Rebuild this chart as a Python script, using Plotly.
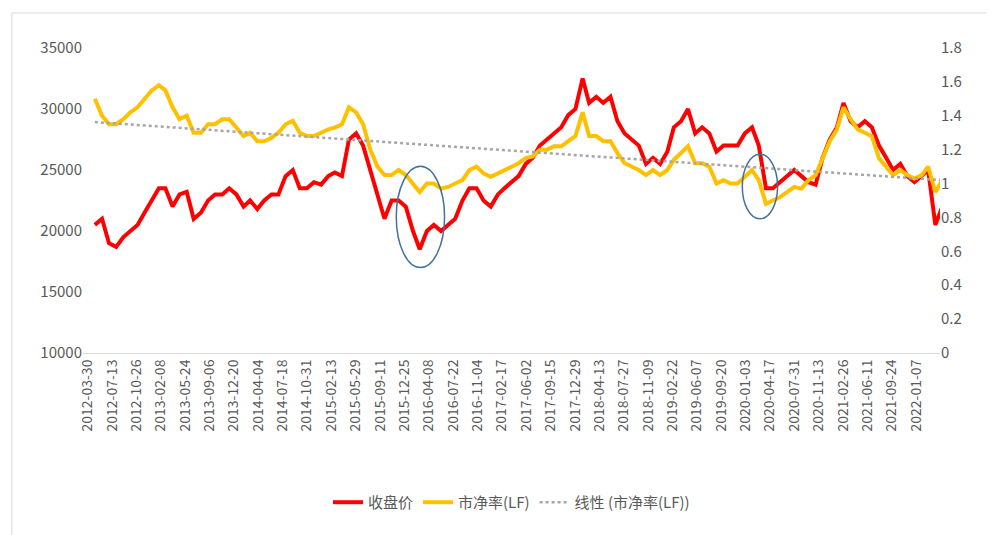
import numpy as np, pandas as pd
import plotly.graph_objects as go

months = pd.date_range("2012-04-30", "2022-04-30", freq="ME")[:121]
close = [20500,21000,19000,18700,19500,20000,20500,21500,22500,
 23500,23500,22000,23000,23200,21000,21500,22500,23000,23000,23500,23000,
 22000,22500,21800,22500,23000,23000,24500,25000,23500,23500,24000,23800,
 24500,24800,24500,27500,28000,27000,25000,23000,21000,22500,22500,22000,
 20000,18500,20000,20500,20000,20500,21000,22500,23500,23500,22500,22000,
 23000,23500,24000,24500,25500,26000,27000,27500,28000,28500,29500,30000,
 32500,30500,31000,30500,31000,29000,28000,27500,27000,25500,26000,25500,
 26500,28500,29000,30000,28000,28500,28000,26500,27000,27000,27000,28000,
 28500,27000,23500,23500,24000,24500,25000,24500,24000,23800,26000,27500,
 28500,30500,29000,28500,29000,28500,27000,26000,25000,25500,24500,24000,
 24500,25000,20500,22000]
pb = [1.5,1.4,1.35,1.35,1.38,1.42,1.45,1.5,1.55,
 1.58,1.55,1.45,1.38,1.4,1.3,1.3,1.35,1.35,1.38,1.38,1.33,
 1.28,1.3,1.25,1.25,1.27,1.3,1.35,1.37,1.3,1.28,1.28,1.3,
 1.32,1.33,1.35,1.45,1.42,1.35,1.2,1.1,1.05,1.05,1.08,1.05,
 1.0,0.95,1.0,1.0,0.97,0.98,1.0,1.02,1.08,1.1,1.06,1.04,
 1.06,1.08,1.1,1.12,1.15,1.16,1.2,1.2,1.22,1.22,1.25,1.28,
 1.42,1.28,1.28,1.25,1.25,1.18,1.12,1.1,1.08,1.05,1.08,1.05,
 1.08,1.14,1.18,1.22,1.12,1.12,1.1,1.0,1.02,1.0,1.0,1.04,
 1.08,1.02,0.88,0.9,0.92,0.95,0.98,0.97,1.02,1.05,1.15,1.25,
 1.32,1.45,1.38,1.32,1.3,1.28,1.15,1.1,1.05,1.08,1.05,1.03,
 1.05,1.1,0.95,1.02]
n = min(len(close), len(pb))
dates = months[:n]; close = close[:n]; pb = pb[:n]
tick_dates = pd.date_range("2012-03-30", "2022-03-01", freq="105D")
tick_labels = [d.strftime("%Y-%m-%d") for d in tick_dates]

t = np.array([(d - dates[0]).days for d in dates], float)
k, b = np.polyfit(t, pb, 1)
trend = k * t + b

fig = go.Figure()
fig.add_trace(go.Scatter(x=dates, y=close, name="收盘价", line=dict(color="#FF0000", width=4)))
fig.add_trace(go.Scatter(x=dates, y=pb, name="市净率(LF)", yaxis="y2", line=dict(color="#FFC000", width=4)))
fig.add_trace(go.Scatter(x=dates, y=trend, name="线性 (市净率(LF))", yaxis="y2",
                         line=dict(color="#A6A6A6", width=2.5, dash="dot")))
for x0, x1, y0, y1 in [("2015-11-20", "2016-06-15", 17000, 25300), ("2019-12-20", "2020-05-20", 21000, 26300)]:
    fig.add_shape(type="circle", xref="x", yref="y", x0=x0, x1=x1, y0=y0, y1=y1,
                  line=dict(color="#41719C", width=1.5))
fig.update_layout(
    width=994, height=535, paper_bgcolor="white", plot_bgcolor="white",
    margin=dict(l=75, r=62, t=40, b=190),
    font=dict(family="Noto Sans CJK SC, sans-serif", size=15, color="#595959"),
    xaxis=dict(type="date", tickvals=tick_dates, ticktext=tick_labels, tickangle=-90,
               range=["2012-03-10", "2022-04-20"], showgrid=False, showline=True,
               linecolor="#D9D9D9", ticks="", tickfont=dict(size=14)),
    yaxis=dict(range=[10000, 35000], dtick=5000, tickformat="d", showgrid=False,
               zeroline=False, ticks=""),
    yaxis2=dict(range=[0, 1.8], dtick=0.2, overlaying="y", side="right", showgrid=False,
                zeroline=False, ticks=""),
    legend=dict(orientation="h", x=0.5, xanchor="center", y=-0.49, yanchor="middle",
                font=dict(size=15)),
)
fig.add_shape(type="rect", xref="paper", yref="paper", x0=-0.083, x1=1.062, y0=-0.605, y1=1.115,
              line=dict(color="#D9D9D9", width=1))
fig.write_html("out.html")
